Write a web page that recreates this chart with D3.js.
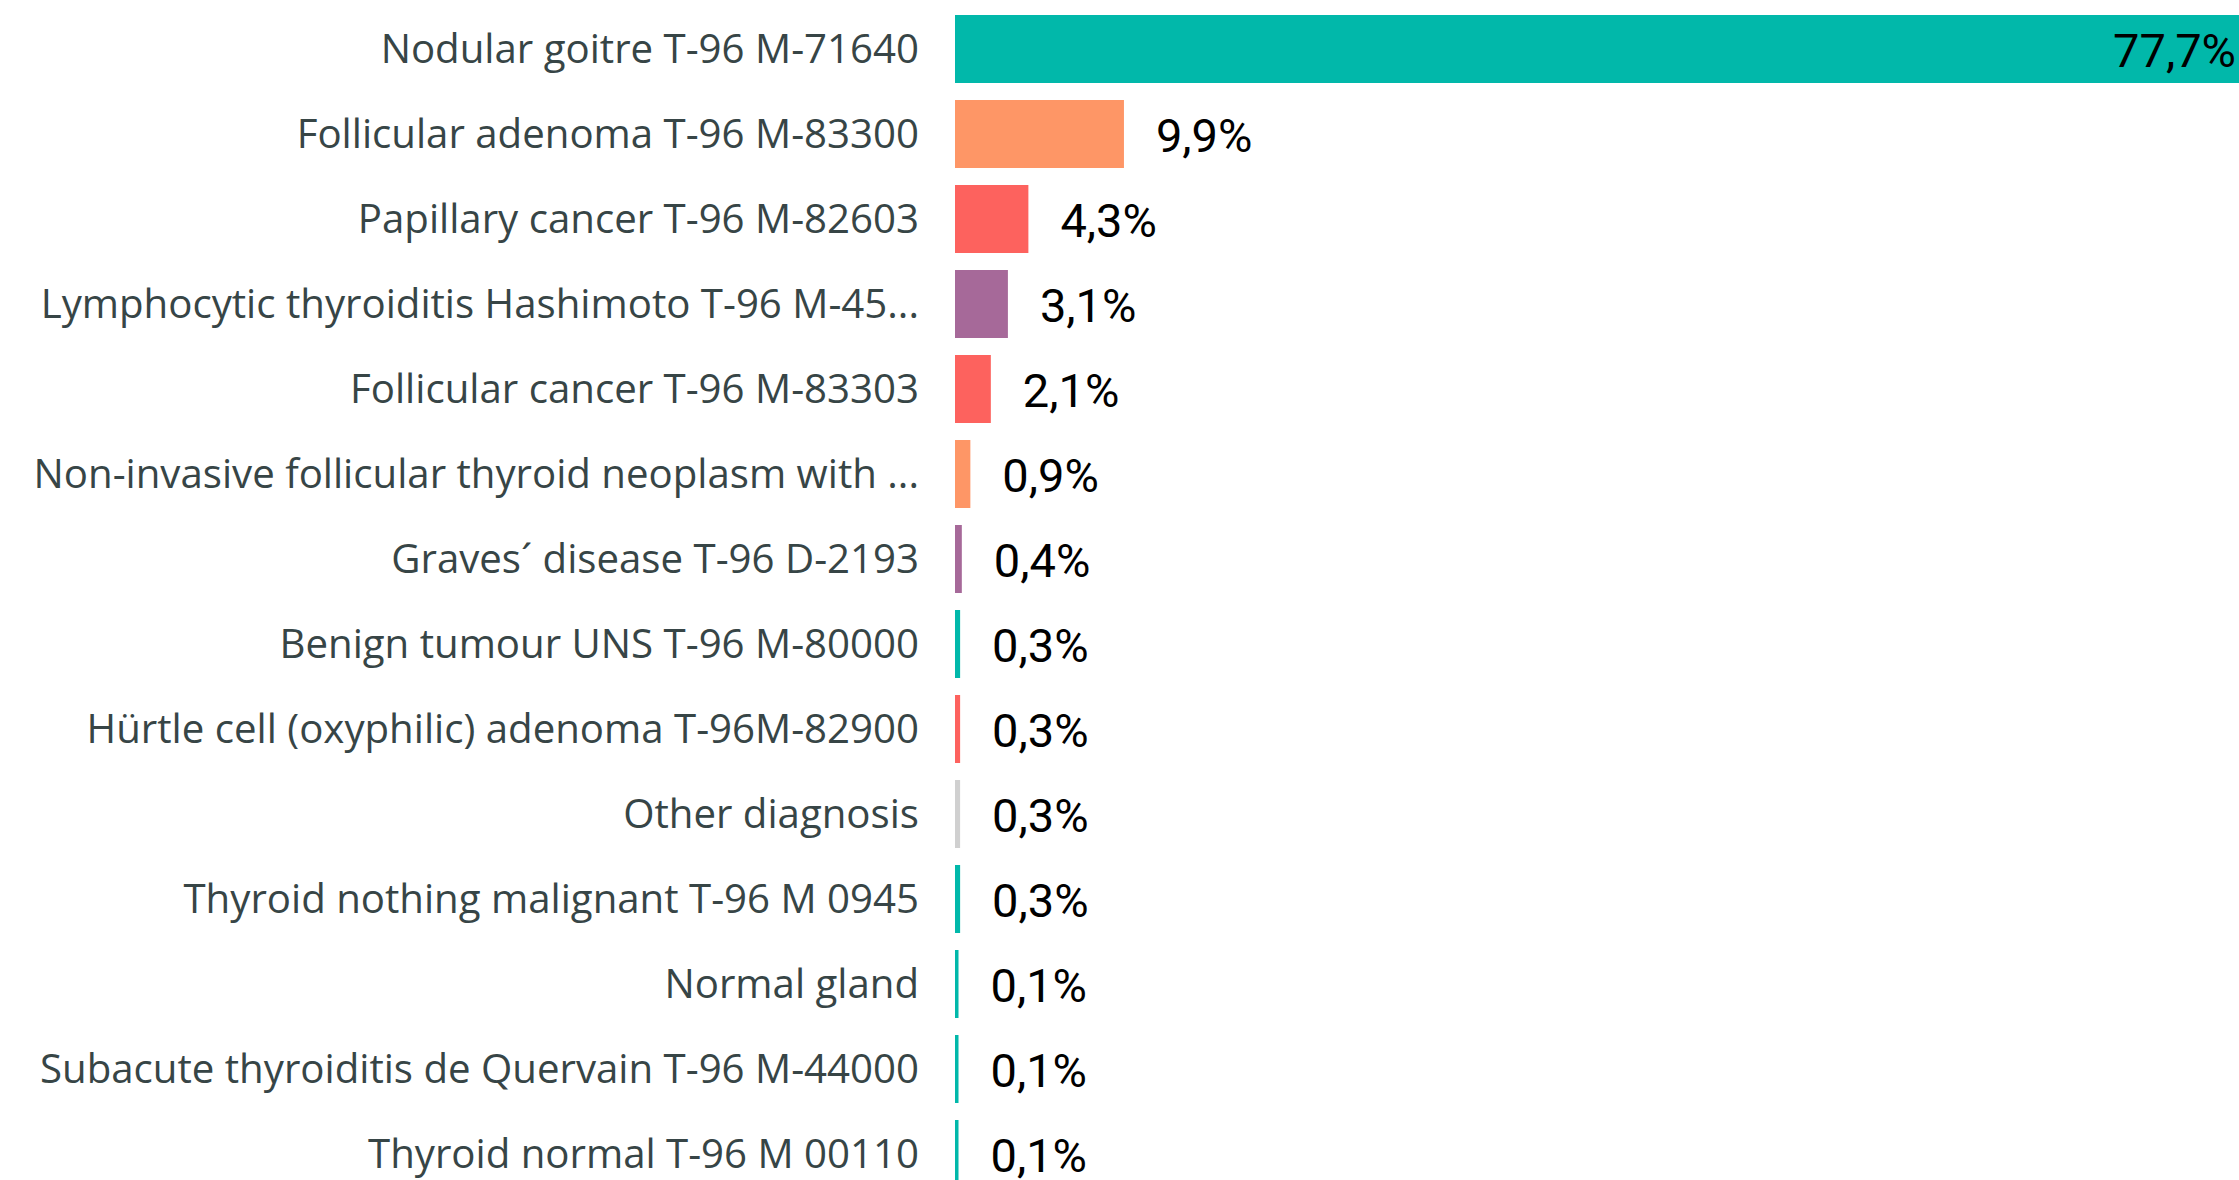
<!DOCTYPE html>
<html>
<head>
<meta charset="utf-8">
<script src="https://cdn.jsdelivr.net/npm/d3@7"></script>
<style>
  html, body { margin: 0; padding: 0; background: #fff; overflow: hidden; }
</style>
</head>
<body>
<script>
// chart size = browser window
let width = 2239, height = 1180

// data
const categories = [
    "Nodular goitre T-96 M-71640",
    "Follicular adenoma T-96 M-83300",
    "Papillary cancer T-96 M-82603",
    "Lymphocytic thyroiditis Hashimoto T-96 M-45...",
    "Follicular cancer T-96 M-83303",
    "Non-invasive follicular thyroid neoplasm with ...",
    "Graves\u00b4 disease T-96 D-2193",
    "Benign tumour UNS T-96 M-80000",
    "H\u00fcrtle cell (oxyphilic) adenoma T-96M-82900",
    "Other diagnosis",
    "Thyroid nothing malignant T-96 M 0945",
    "Normal gland",
    "Subacute thyroiditis de Quervain T-96 M-44000",
    "Thyroid normal T-96 M 00110"
]
const values = [77.7, 9.9, 4.3, 3.1, 2.1, 0.9, 0.4, 0.3, 0.3, 0.3, 0.3, 0.1, 0.1, 0.1]
const groups = ["benign", "adenoma", "cancer", "thyroiditis", "cancer", "adenoma", "thyroiditis",
    "benign", "cancer", "other", "benign", "benign", "benign", "benign"]

const data = categories.map((c, i) => ({ name: c, value: values[i], group: groups[i] }))

//power bi style palette
let colors = d3.scaleOrdinal()
    .domain(["benign", "adenoma", "cancer", "thyroiditis", "other"])
    .range(["#01B8AA", "#FE9666", "#FD625E", "#A66999", "#D0D0D0"])

// the biggest bar runs past the right edge of the view
let x = d3.scaleLinear()
    .domain([0, d3.max(values)])
    .range([955, 2281])

let y = d3.scaleBand()
    .domain(categories)
    .range([6.5, 6.5 + 85 * categories.length])
    .paddingInner(0.2)
    .paddingOuter(0.1)

let fmt = v => d3.format(".1f")(v).replace(".", ",") + "%"

let svg = d3.select("body")
    .append("svg")
    .attr("width", width)
    .attr("height", height)

//category axis, no line or ticks
let yAxis = svg.append("g")
    .attr("transform", `translate(${x(0) - 36},0)`)
    .call(d3.axisLeft(y).tickSize(0).tickPadding(0))
yAxis.select(".domain").remove()
yAxis.selectAll("text")
    .attr("font-family", "'Segoe UI', 'Open Sans', sans-serif")
    .attr("font-size", 40.2)
    .attr("fill", "#374546")
    .attr("dy", "0.35em")

//bars
svg.append("g")
    .selectAll("rect")
    .data(data)
    .join("rect")
    .attr("x", x(0))
    .attr("y", d => y(d.name))
    .attr("height", y.bandwidth())
    .attr("width", d => Math.max(3.5, x(d.value) - x(0)))
    .attr("fill", d => colors(d.group))

//value labels, outside end unless they do not fit
let labels = svg.append("g")
    .attr("font-family", "Roboto, sans-serif")
    .attr("font-size", 47)
    .attr("fill", "#000")
    .selectAll("text")
    .data(data)
    .join("text")
    .attr("y", d => y(d.name) + y.bandwidth() / 2)
    .attr("dy", "0.38em")
    .text(d => fmt(d.value))

labels.each(function(d) {
    let w = this.getComputedTextLength()
    let end = Math.max(3.5, x(d.value) - x(0)) + x(0)
    if (end + 32 + w > width) {
        d3.select(this).attr("x", Math.min(end, width) - 3).attr("text-anchor", "end")
    } else {
        d3.select(this).attr("x", end + 32)
    }
})
</script>
</body>
</html>
